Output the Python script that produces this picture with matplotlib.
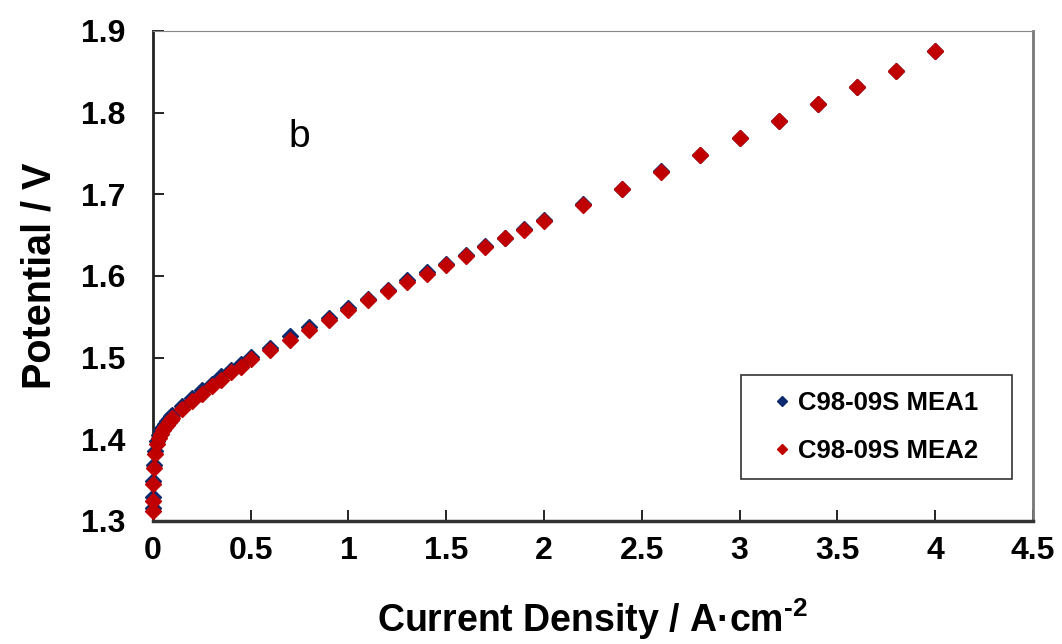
import matplotlib
matplotlib.use("Agg")
import matplotlib.pyplot as plt
from matplotlib.patches import Rectangle
from matplotlib.ticker import MultipleLocator, FormatStrFormatter

# Densidad de corriente (A/cm2) y potencial (V)
current = [0, 0.001, 0.002, 0.005, 0.01, 0.02, 0.03, 0.04, 0.05, 0.06, 0.07,
           0.08, 0.09, 0.1, 0.15, 0.2, 0.25, 0.3, 0.35, 0.4, 0.45, 0.5,
           0.6, 0.7, 0.8, 0.9, 1.0, 1.1, 1.2, 1.3, 1.4, 1.5, 1.6, 1.7, 1.8,
           1.9, 2.0, 2.2, 2.4, 2.6, 2.8, 3.0, 3.2, 3.4, 3.6, 3.8, 4.0]

mea1 = [1.316, 1.329, 1.349, 1.369, 1.386, 1.398, 1.405, 1.411, 1.415, 1.419,
        1.422, 1.425, 1.428, 1.430, 1.441, 1.451, 1.460, 1.468, 1.477, 1.485,
        1.492, 1.501, 1.512, 1.526, 1.538, 1.549, 1.561, 1.572, 1.583, 1.595,
        1.605, 1.615, 1.626, 1.637, 1.647, 1.658, 1.669, 1.688, 1.707, 1.728,
        1.748, 1.769, 1.790, 1.810, 1.831, 1.851, 1.875]

mea2 = [1.312, 1.325, 1.345, 1.365, 1.382, 1.394, 1.401, 1.407, 1.411, 1.415,
        1.418, 1.421, 1.424, 1.426, 1.437, 1.447, 1.456, 1.465, 1.473, 1.482,
        1.488, 1.498, 1.509, 1.522, 1.534, 1.546, 1.558, 1.570, 1.581, 1.592,
        1.603, 1.613, 1.624, 1.635, 1.646, 1.656, 1.667, 1.687, 1.706, 1.727,
        1.748, 1.769, 1.790, 1.810, 1.831, 1.851, 1.875]

labels = ["C98-09S MEA1", "C98-09S MEA2"]
colors = ["#0E2A6E", "#C00000"]

fuente = ["Liberation Sans", "DejaVu Sans"]
plt.rcParams["mathtext.fontset"] = "custom"
plt.rcParams["mathtext.rm"] = "Liberation Sans:bold"
plt.rcParams["mathtext.bf"] = "Liberation Sans:bold"

fig = plt.figure(figsize=(10.62, 6.44), dpi=100)
ax = fig.add_axes([0.144, 0.191, 0.8285, 0.761])

# sin recorte para que los puntos en x=0 se vean enteros sobre el eje
ax.plot(current, mea1, "D", color=colors[0], markersize=8, label=labels[0],
        clip_on=False, zorder=6)
ax.plot(current, mea2, "D", color=colors[1], markersize=8, label=labels[1],
        clip_on=False, zorder=6)

ax.set_xlim(0, 4.5)
ax.set_ylim(1.3, 1.9)
ax.xaxis.set_major_locator(MultipleLocator(0.5))
ax.yaxis.set_major_locator(MultipleLocator(0.1))
ax.xaxis.set_major_formatter(FormatStrFormatter("%g"))
ax.yaxis.set_major_formatter(FormatStrFormatter("%.1f"))

ax.tick_params(direction="in", length=8, width=1.2)
ax.tick_params(axis="x", pad=11)
ax.tick_params(axis="y", pad=20)
for lab in ax.get_xticklabels() + ax.get_yticklabels():
    lab.set_family(fuente)
    lab.set_fontsize(23)
    lab.set_fontweight("bold")

ax.spines["left"].set_linewidth(2)
ax.spines["bottom"].set_linewidth(2.5)
ax.spines["left"].set_color("#222222")
ax.spines["bottom"].set_color("#333333")
ax.spines["top"].set_color("#888888")
ax.spines["right"].set_color("#777777")
ax.spines["right"].set_linewidth(2)

ax.set_xlabel("Current Density / A·cm$^{\\text{-2}}$", family=fuente,
              fontsize=27, fontweight="bold", labelpad=22)
ax.set_ylabel("Potential / V", family=fuente, fontsize=28.5, fontweight="bold",
              labelpad=16)

ax.text(0.75, 1.77, "b", family=fuente, fontsize=28, ha="center", va="center")

# Marco de la leyenda dibujado aparte, la leyenda va centrada dentro
ax.add_patch(Rectangle((0.668, 0.086), 0.308, 0.212, transform=ax.transAxes,
                       fill=False, edgecolor="#333333", linewidth=1.2, zorder=5))
leg = ax.legend(loc="center", bbox_to_anchor=(0.822, 0.192),
                prop={"family": fuente, "weight": "bold", "size": 18.5},
                frameon=False, handlelength=0.6, handletextpad=0.3,
                labelspacing=0.95, markerscale=0.7)

fig.savefig("out.png", dpi=100)
